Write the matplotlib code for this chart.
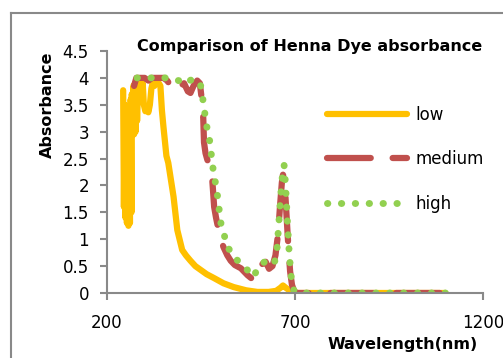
import matplotlib
matplotlib.use("Agg")
import matplotlib.pyplot as plt
from matplotlib.lines import Line2D

# absorbance spectra
low_wl = [243, 245, 247, 249, 251, 253, 255, 257, 259, 261, 263, 265, 266, 268, 270, 272,
          274, 276, 278, 280, 283, 286, 289, 292, 295, 298, 302, 306, 310, 314, 318, 322,
          326, 330, 334, 338, 342, 346, 350, 358, 363, 377, 387, 400, 410, 422, 435, 449,
          465, 484, 510, 537, 570, 600, 630, 650, 662, 668, 675, 685, 697, 705, 800, 900,
          1000, 1100]
low_abs = [3.77, 1.6, 3.5, 1.4, 3.2, 1.3, 2.8, 1.25, 3.0, 1.3, 3.6, 1.5, 3.7, 3.0, 3.85, 2.95,
           3.9, 3.0, 3.9, 3.2, 3.9, 3.6, 3.92, 3.75, 3.9, 3.5, 3.38, 3.45, 3.36, 3.5, 3.8, 3.92,
           3.85, 3.92, 3.9, 3.9, 3.85, 3.4, 3.1, 2.55, 2.42, 1.79, 1.17, 0.8, 0.7, 0.6, 0.5, 0.43,
           0.35, 0.28, 0.18, 0.11, 0.05, 0.02, 0.02, 0.04, 0.1, 0.14, 0.1, 0.05, 0.01, 0.0, 0.0, 0.0,
           0.0, 0.0]

med_wl = [272, 278, 290, 300, 310, 320, 330, 340, 350, 360, 370, 380, 387, 395, 405, 415,
          422, 430, 440, 447, 452, 456, 458, 462, 470, 476, 480, 485, 490, 496, 502, 510,
          520, 529, 540, 556, 574, 590, 604, 615, 622, 631, 640, 648, 655, 660, 665, 668,
          672, 677, 682, 687, 692, 698, 705, 800, 900, 1000, 1100]
med_abs = [3.85, 4.0, 4.0, 4.0, 3.95, 4.0, 4.0, 4.0, 4.0, 3.95, 3.85, 3.8, 3.75, 3.85, 3.9, 3.75,
           3.72, 3.85, 3.95, 3.9, 3.6, 3.25, 2.8, 2.6, 2.4, 2.3, 2.1, 1.6, 1.4, 1.2, 1.0, 0.85,
           0.7, 0.6, 0.52, 0.46, 0.33, 0.24, 0.48, 0.55, 0.58, 0.45, 0.5, 0.7, 1.1, 1.6, 2.05, 2.2,
           2.1, 1.5, 0.9, 0.4, 0.15, 0.03, 0.0, 0.0, 0.0, 0.0, 0.0]

high_wl = [280, 300, 320, 340, 360, 380, 390, 400, 410, 420, 430, 440, 448, 455, 459, 465,
           470, 477, 484, 490, 495, 500, 505, 511, 520, 529, 540, 556, 570, 582, 590, 600,
           612, 625, 635, 645, 652, 658, 663, 668, 671, 675, 680, 685, 690, 697, 705, 800,
           900, 1000, 1100]
high_abs = [4.0, 4.0, 4.0, 4.0, 4.0, 3.98, 3.95, 3.95, 3.9, 3.95, 3.98, 3.95, 3.9, 3.6, 3.4, 3.1,
            3.0, 2.6, 2.2, 2.0, 1.75, 1.45, 1.2, 1.1, 0.85, 0.78, 0.65, 0.55, 0.45, 0.37, 0.3, 0.45,
            0.55, 0.6, 0.55, 0.55, 0.8, 1.4, 1.9, 2.3, 2.38, 2.0, 1.3, 0.7, 0.3, 0.05, 0.0, 0.0,
            0.0, 0.0, 0.0]

series_names = ["low", "medium", "high"]
x_ticks = [200, 700, 1200]
y_ticks = [0, 0.5, 1, 1.5, 2, 2.5, 3, 3.5, 4, 4.5]

plt.rcParams['font.family'] = ['DejaVu Sans']
grey = '#898989'

fig = plt.figure(figsize=(5.03, 3.58), dpi=100)
ax = fig.add_axes([107 / 503, 65 / 358, 376 / 503, 242 / 358])

ax.plot(low_wl, low_abs, color='#FFC000', lw=4.5, solid_capstyle='round',
        solid_joinstyle='round', label=series_names[0])
ax.plot(med_wl, med_abs, color='#C0504D', lw=4.5, linestyle=(0, (7, 3.5)),
        dash_capstyle='round', dash_joinstyle='round', label=series_names[1])
ax.plot(high_wl, high_abs, color='#92D050', lw=5, linestyle=(0, (0.05, 1.95)),
        dash_capstyle='round', label=series_names[2])

ax.set_xlim(200, 1200)
ax.set_ylim(0, 4.5)
ax.set_xticks(x_ticks)
ax.set_yticks(y_ticks)
ax.set_yticklabels([f"{v:g}" for v in y_ticks])
for side in ['top', 'right']:
    ax.spines[side].set_visible(False)
for side in ['left', 'bottom']:
    ax.spines[side].set_color(grey)
    ax.spines[side].set_linewidth(1.5)
ax.tick_params(axis='both', direction='out', length=5, width=1.5, color=grey,
               labelsize=12, labelcolor='black')
ax.tick_params(axis='x', pad=10)
ax.tick_params(axis='y', pad=8)

ax.legend(loc='upper left', bbox_to_anchor=((327 - 107) / 376, (293 - 106) / 242),
          frameon=False, fontsize=12, handlelength=4.8, handletextpad=0.5,
          labelspacing=1.58, borderaxespad=0, borderpad=0)

fig.text(310 / 503, 1 - 46 / 358, "Comparison of Henna Dye absorbance",
         ha='center', va='center', fontsize=11.5, fontweight='bold')
fig.text(47 / 503, 1 - 105 / 358, "Absorbance", rotation=90,
         ha='center', va='center', fontsize=11.5, fontweight='bold')
fig.text(403 / 503, 1 - 345 / 358, "Wavelength(nm)",
         ha='center', va='center', fontsize=11.5, fontweight='bold')

# chart area border (cropped on the right and bottom)
fig.add_artist(Line2D([11 / 503, 11 / 503], [0, 1 - 13 / 358], color=grey, lw=1.5))
fig.add_artist(Line2D([11 / 503, 502 / 503], [1 - 13 / 358, 1 - 13 / 358], color=grey, lw=1.5))

fig.savefig("out.png", dpi=100)
